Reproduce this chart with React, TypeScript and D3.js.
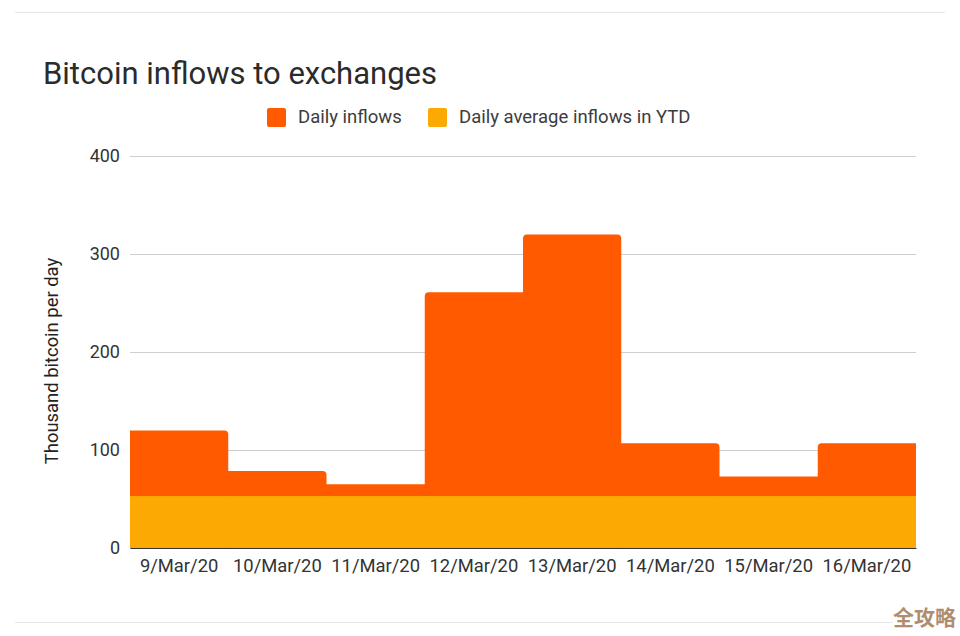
import * as d3 from "d3";
import * as React from "react";

const days = [
  "9/Mar/20",
  "10/Mar/20",
  "11/Mar/20",
  "12/Mar/20",
  "13/Mar/20",
  "14/Mar/20",
  "15/Mar/20",
  "16/Mar/20",
];
const dailyInflows = [120, 78.5, 65, 261, 320, 107, 73, 107];
const dailyAverage = [53, 53, 53, 53, 53, 53, 53, 53];
const yTicks = [0, 100, 200, 300, 400];

const width = 960;
const height = 636;
const left = 130;
const right = 916;
const top = 156;
const bottom = 548;
const font = "Roboto, sans-serif";
const orange = "#ff5a00";
const yellow = "#fcaa03";

function drawChart(node: SVGSVGElement) {
  const svg = d3.select(node);
  svg.selectAll("*").remove();

  const x = d3.scaleBand<string>().domain(days).range([left, right]);
  const y = d3.scaleLinear().domain([0, 400]).range([bottom, top]);

  svg.append("rect").attr("width", width).attr("height", height).attr("fill", "#ffffff");

  // faint separators from the page this was cropped out of
  svg
    .selectAll("line.sep")
    .data([
      [12.5, 945],
      [622.5, 893],
    ])
    .enter()
    .append("line")
    .attr("class", "sep")
    .attr("x1", 15)
    .attr("x2", (d) => d[1])
    .attr("y1", (d) => d[0])
    .attr("y2", (d) => d[0])
    .attr("stroke", "#e6e6e6");

  // y axis with gridlines
  const yAxis = d3
    .axisLeft(y)
    .tickValues(yTicks)
    .tickSize(left - right)
    .tickPadding(10)
    .tickFormat((d) => String(d));
  const yG = svg.append("g").attr("transform", `translate(${left},0)`).call(yAxis);
  yG.select(".domain").remove();
  yG.selectAll("line").attr("stroke", "#cfcfcf").attr("stroke-width", 1.2);
  yG.selectAll("text")
    .attr("font-family", font)
    .attr("font-size", 18)
    .attr("fill", "#333333");

  // daily inflows, corners rounded only where the step sticks out
  const radius = 4;
  svg
    .append("g")
    .selectAll("path")
    .data(dailyInflows)
    .enter()
    .append("path")
    .attr("fill", orange)
    .attr("d", (v, i) => {
      const prevLower = i > 0 && dailyInflows[i - 1] < v;
      const nextLower = i < days.length - 1 && dailyInflows[i + 1] < v;
      // tuck the lower side under its taller neighbour so no seam shows
      const x0 = x(days[i])! - (i > 0 && !prevLower ? 0.6 : 0);
      const x1 = x(days[i])! + x.bandwidth() + (i < days.length - 1 && !nextLower ? 0.6 : 0);
      const yv = y(v);
      const rl = prevLower ? radius : 0;
      const rr = nextLower ? radius : 0;
      const p = d3.path();
      p.moveTo(x0, bottom);
      p.lineTo(x0, yv + rl);
      if (rl) p.arcTo(x0, yv, x0 + rl, yv, rl);
      p.lineTo(x1 - rr, yv);
      if (rr) p.arcTo(x1, yv, x1, yv + rr, rr);
      p.lineTo(x1, bottom);
      p.closePath();
      return p.toString();
    });

  // daily average
  svg
    .append("g")
    .selectAll("rect")
    .data(dailyAverage)
    .enter()
    .append("rect")
    .attr("fill", yellow)
    .attr("x", (_d, i) => x(days[i])!)
    .attr("width", (_d, i) => x.bandwidth() + (i < days.length - 1 ? 0.6 : 0))
    .attr("y", (d) => y(d))
    .attr("height", (d) => bottom - y(d));

  // x axis
  const xAxis = d3.axisBottom(x).tickSize(0).tickPadding(11);
  const xG = svg.append("g").attr("transform", `translate(0,${bottom})`).call(xAxis);
  xG.select(".domain").attr("stroke", "#333333").attr("stroke-width", 1.2);
  xG.selectAll("text")
    .attr("font-family", font)
    .attr("font-size", 18.4)
    .attr("fill", "#333333");

  svg
    .append("text")
    .attr("x", 43)
    .attr("y", 84)
    .attr("font-family", font)
    .attr("font-size", 31)
    .attr("fill", "#2b2b2b")
    .text("Bitcoin inflows to exchanges");

  // legend
  const legend = [
    { name: "Daily inflows", color: orange, sx: 267, tx: 298 },
    { name: "Daily average inflows in YTD", color: yellow, sx: 428, tx: 459 },
  ];
  const items = svg.append("g").selectAll("g").data(legend).enter().append("g");
  items
    .append("rect")
    .attr("x", (d) => d.sx)
    .attr("y", 108)
    .attr("width", 19)
    .attr("height", 19)
    .attr("rx", 2)
    .attr("fill", (d) => d.color);
  items
    .append("text")
    .attr("x", (d) => d.tx)
    .attr("y", 123)
    .attr("font-family", font)
    .attr("font-size", 18.5)
    .attr("fill", "#3c3c3c")
    .text((d) => d.name);

  svg
    .append("text")
    .attr("transform", "translate(58,361) rotate(-90)")
    .attr("text-anchor", "middle")
    .attr("font-family", font)
    .attr("font-size", 18.4)
    .attr("fill", "#222222")
    .text("Thousand bitcoin per day");

  // watermark
  svg
    .append("text")
    .attr("x", 893)
    .attr("y", 625)
    .attr("font-family", '"Noto Sans CJK SC", sans-serif')
    .attr("font-weight", 700)
    .attr("font-size", 21)
    .attr("fill", "#b08d6e")
    .text("全攻略");
}

export default function App() {
  const ref = React.useRef<SVGSVGElement>(null);

  React.useEffect(() => {
    if (ref.current) drawChart(ref.current);
  }, []);

  return (
    <svg
      ref={ref}
      width={width}
      height={height}
      style={{ position: "absolute", left: 0, top: 0 }}
    />
  );
}
